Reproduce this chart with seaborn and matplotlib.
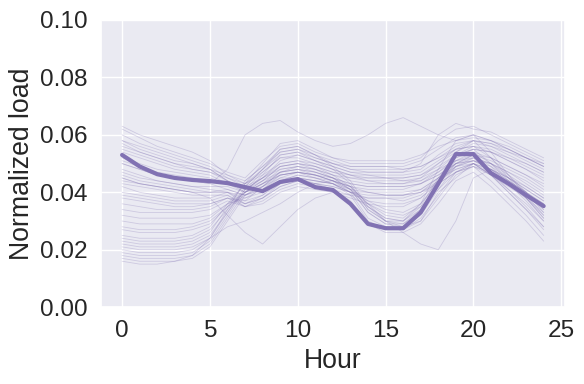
import matplotlib
matplotlib.use('Agg')
import matplotlib.pyplot as plt
import pandas as pd
import seaborn as sns

# Hours of the day
hours = list(range(25))

# Individual daily load profiles (approximate)
profiles = [
    [.063, .060, .058, .056, .054, .051, .046, .043, .050, .057, .058, .055, .052, .050, .050, .050, .050, .052, .058, .062, .063, .060, .057, .054, .051],
    [.062, .059, .056, .054, .052, .050, .047, .045, .051, .056, .057, .054, .052, .051, .051, .051, .051, .053, .056, .058, .059, .058, .056, .053, .050],
    [.060, .057, .055, .053, .051, .049, .045, .042, .048, .055, .056, .053, .051, .049, .049, .049, .049, .051, .055, .059, .060, .058, .055, .052, .049],
    [.058, .056, .054, .052, .050, .048, .044, .041, .047, .052, .053, .051, .049, .047, .047, .047, .047, .050, .060, .064, .062, .061, .058, .055, .052],
    [.058, .055, .053, .051, .050, .048, .044, .040, .046, .053, .054, .052, .050, .048, .047, .047, .047, .048, .053, .057, .058, .056, .053, .050, .047],
    [.057, .054, .052, .050, .048, .047, .044, .041, .045, .051, .053, .051, .049, .047, .046, .046, .046, .047, .051, .055, .056, .055, .052, .049, .046],
    [.056, .054, .052, .050, .049, .048, .046, .044, .049, .054, .055, .052, .050, .049, .049, .049, .048, .049, .052, .056, .058, .057, .055, .052, .049],
    [.055, .053, .051, .049, .048, .047, .045, .043, .047, .052, .052, .050, .048, .046, .045, .045, .045, .046, .050, .054, .057, .056, .054, .051, .048],
    [.054, .052, .050, .048, .047, .046, .043, .040, .044, .049, .050, .049, .047, .046, .046, .045, .044, .044, .048, .053, .055, .054, .052, .050, .047],
    [.052, .050, .048, .047, .046, .045, .043, .042, .048, .054, .055, .053, .050, .048, .048, .048, .048, .049, .052, .055, .056, .054, .051, .048, .045],
    [.051, .049, .047, .046, .045, .044, .043, .041, .045, .050, .051, .050, .048, .046, .044, .043, .043, .045, .050, .055, .058, .057, .054, .052, .049],
    [.050, .048, .046, .045, .044, .043, .041, .039, .043, .048, .049, .048, .046, .045, .045, .045, .045, .046, .049, .053, .055, .054, .051, .048, .044],
    [.048, .046, .044, .043, .042, .041, .040, .037, .042, .047, .048, .047, .045, .043, .042, .042, .042, .043, .047, .052, .054, .052, .049, .046, .042],
    [.047, .045, .044, .043, .042, .042, .042, .040, .044, .049, .050, .049, .047, .045, .044, .044, .044, .045, .048, .051, .053, .052, .049, .046, .043],
    [.046, .044, .043, .042, .041, .040, .040, .038, .041, .046, .047, .046, .044, .042, .040, .039, .039, .040, .045, .050, .053, .051, .048, .045, .041],
    [.045, .043, .042, .041, .040, .040, .040, .036, .039, .044, .046, .045, .043, .040, .037, .036, .036, .038, .044, .050, .052, .050, .046, .042, .038],
    [.044, .043, .042, .041, .040, .040, .041, .039, .041, .045, .047, .046, .045, .043, .042, .042, .042, .043, .046, .050, .051, .050, .047, .043, .039],
    [.043, .042, .041, .040, .039, .039, .039, .035, .038, .043, .045, .044, .043, .040, .038, .038, .037, .039, .044, .049, .051, .049, .045, .041, .037],
    [.042, .040, .039, .038, .038, .038, .040, .039, .042, .047, .049, .048, .046, .044, .043, .043, .043, .044, .047, .051, .052, .050, .047, .044, .040],
    [.040, .039, .038, .037, .037, .037, .039, .036, .038, .042, .044, .043, .042, .040, .040, .040, .040, .041, .045, .048, .050, .048, .045, .041, .037],
    [.039, .038, .037, .036, .036, .036, .038, .036, .038, .042, .044, .043, .042, .040, .039, .039, .039, .040, .044, .048, .050, .048, .044, .040, .036],
    [.038, .037, .036, .035, .035, .036, .038, .035, .037, .041, .043, .042, .041, .039, .038, .038, .038, .040, .043, .047, .049, .047, .044, .040, .036],
    [.036, .035, .034, .034, .034, .035, .038, .037, .039, .043, .045, .044, .043, .041, .040, .039, .039, .041, .045, .049, .050, .047, .043, .039, .034],
    [.034, .033, .033, .033, .033, .034, .037, .035, .036, .040, .042, .041, .040, .038, .036, .035, .035, .038, .043, .047, .049, .046, .042, .038, .033],
    [.032, .031, .031, .031, .031, .032, .036, .038, .040, .044, .046, .045, .044, .042, .041, .041, .041, .043, .046, .050, .051, .048, .044, .040, .035],
    [.030, .029, .029, .029, .029, .031, .036, .040, .042, .046, .047, .046, .044, .041, .037, .034, .033, .036, .043, .049, .051, .048, .043, .038, .032],
    [.028, .027, .027, .027, .028, .030, .035, .039, .041, .044, .045, .044, .043, .040, .036, .033, .032, .035, .041, .047, .050, .046, .041, .036, .030],
    [.027, .026, .026, .026, .027, .029, .035, .040, .043, .047, .048, .047, .045, .042, .036, .032, .031, .036, .044, .051, .054, .050, .045, .040, .034],
    [.025, .024, .024, .024, .025, .028, .036, .043, .046, .050, .051, .049, .046, .042, .034, .030, .030, .035, .045, .053, .056, .052, .046, .040, .033],
    [.024, .023, .023, .023, .024, .027, .034, .040, .043, .046, .047, .046, .044, .041, .035, .031, .030, .036, .048, .058, .060, .054, .046, .039, .032],
    [.023, .022, .022, .022, .023, .026, .035, .043, .048, .053, .054, .051, .048, .043, .034, .030, .029, .034, .044, .052, .055, .050, .044, .038, .031],
    [.022, .021, .021, .021, .022, .025, .033, .041, .045, .048, .049, .047, .045, .041, .033, .029, .029, .033, .042, .054, .058, .052, .045, .038, .031],
    [.021, .020, .020, .020, .021, .024, .034, .044, .049, .055, .056, .053, .049, .044, .035, .031, .030, .034, .043, .050, .053, .049, .043, .037, .030],
    [.020, .019, .019, .019, .020, .024, .033, .042, .045, .049, .050, .048, .045, .041, .033, .029, .028, .032, .041, .049, .052, .047, .041, .035, .028],
    [.019, .018, .018, .018, .019, .023, .032, .041, .044, .047, .048, .046, .044, .040, .031, .028, .027, .031, .039, .047, .050, .046, .040, .034, .027],
    [.018, .017, .017, .017, .018, .022, .031, .040, .043, .046, .047, .045, .043, .039, .030, .027, .027, .030, .038, .046, .049, .044, .038, .032, .025],
    [.017, .016, .016, .016, .017, .021, .030, .039, .042, .045, .045, .043, .041, .037, .029, .026, .026, .029, .036, .044, .047, .042, .036, .030, .023],
    [.016, .015, .015, .016, .018, .024, .028, .030, .033, .036, .040, .043, .044, .042, .036, .030, .028, .030, .040, .045, .050, .046, .040, .034, .028],
    [.050, .048, .046, .045, .044, .043, .048, .060, .064, .065, .061, .058, .056, .057, .060, .064, .066, .063, .060, .058, .060, .058, .055, .052, .050],
    [.045, .043, .042, .041, .040, .038, .032, .026, .022, .028, .034, .038, .040, .039, .035, .030, .026, .022, .020, .030, .045, .048, .045, .042, .038],
]

# Highlighted profile (thick line)
highlight = [.0530, .0490, .0463, .0450, .0443, .0439, .0432, .0418, .0404, .0436, .0446, .0418, .0408,
             .0360, .0290, .0275, .0275, .0330, .0430, .0533, .0533, .0467, .0430, .0390, .0352]

rows = []
for d, prof in enumerate(profiles):
    for h, v in zip(hours, prof):
        rows.append({'day': d, 'hour': h, 'load': v})
df = pd.DataFrame(rows)

sns.set_theme(style='darkgrid', font_scale=1.6)
plt.rcParams['font.family'] = ['Liberation Sans', 'DejaVu Sans']
purple = sns.color_palette('deep')[4]

fig, ax = plt.subplots(figsize=(5.84, 3.84), dpi=100)
sns.lineplot(data=df, x='hour', y='load', units='day', estimator=None,
             color=purple, alpha=0.28, lw=0.6, ax=ax, legend=False)
sns.lineplot(x=hours, y=highlight, color=purple, lw=3, ax=ax)

ax.set_ylim(0, 0.1)
ax.set(xlabel='Hour', ylabel='Normalized load')
fig.subplots_adjust(left=0.173, right=0.967, top=0.948, bottom=0.2)
fig.savefig('out.png', dpi=100)
